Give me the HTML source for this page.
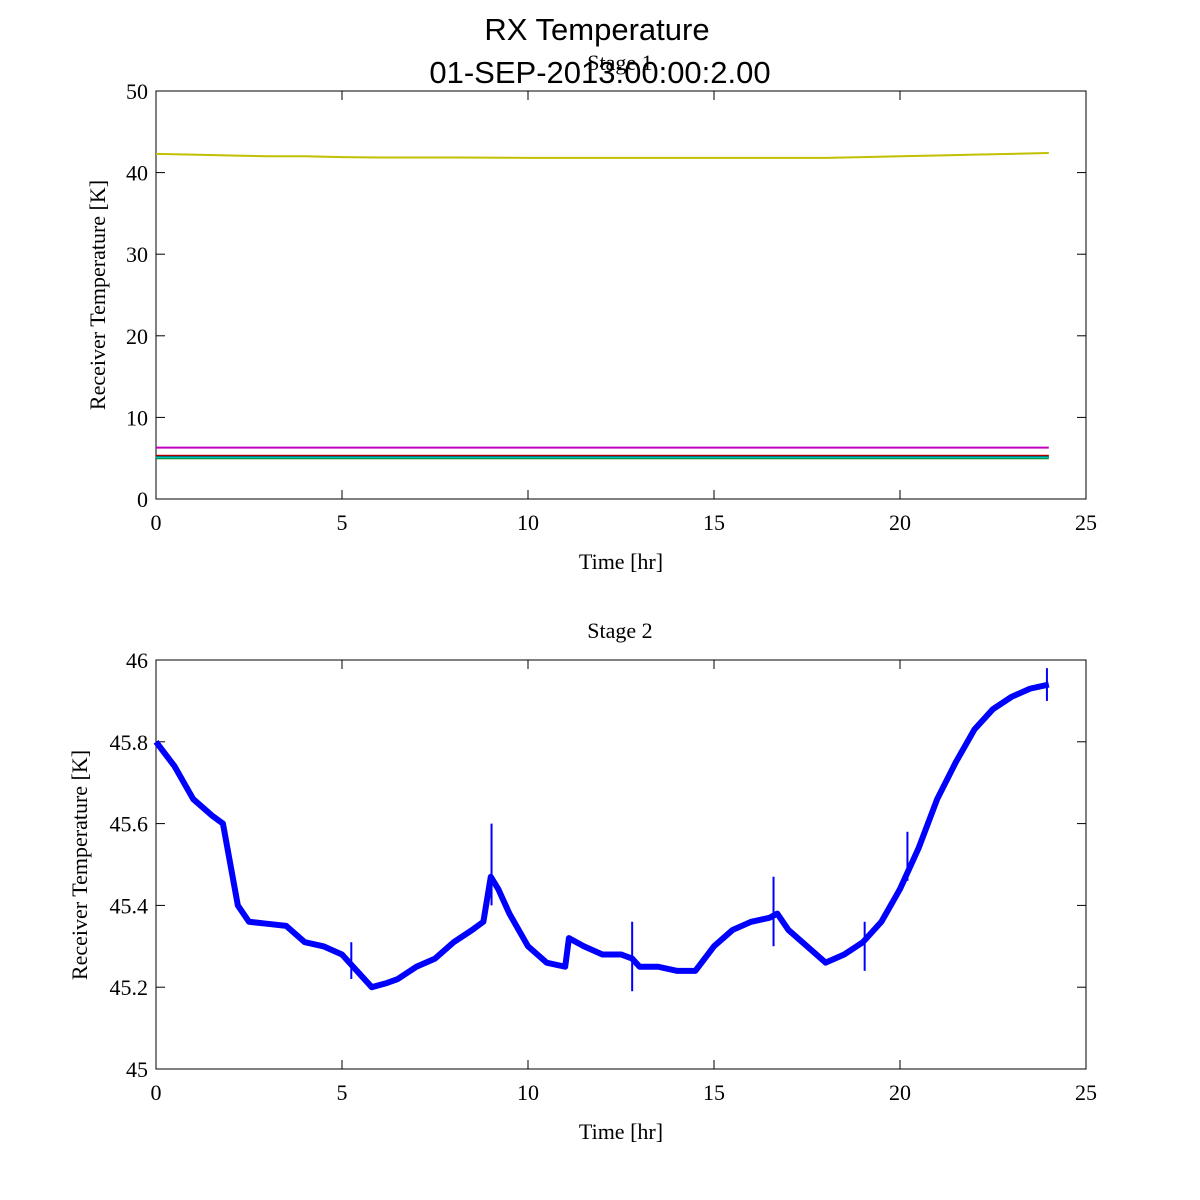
<!DOCTYPE html>
<html><head><meta charset="utf-8"><style>
body{margin:0;background:#fff;width:1200px;height:1200px;overflow:hidden}
svg{display:block}
.t{font-family:"Liberation Serif",serif;font-size:22px;fill:#000}
.s{font-family:"Liberation Sans",sans-serif;font-size:31px;fill:#000}
</style></head><body>
<svg id="c" width="1200" height="1200"></svg>
<script>
const hours2=[0,0.5,1,1.5,1.8,2.0,2.2,2.5,3,3.5,4,4.5,5,5.3,5.5,5.8,6.2,6.5,7,7.5,8,8.5,8.8,9.0,9.2,9.5,10,10.5,11,11.1,11.5,12,12.5,12.8,13,13.5,14,14.5,15,15.5,16,16.5,16.7,17,17.5,18,18.5,19,19.5,20,20.5,21,21.5,22,22.5,23,23.5,24];
const temps2=[45.80,45.74,45.66,45.62,45.60,45.50,45.40,45.36,45.355,45.35,45.31,45.30,45.28,45.25,45.23,45.20,45.21,45.22,45.25,45.27,45.31,45.34,45.36,45.47,45.44,45.38,45.30,45.26,45.25,45.32,45.30,45.28,45.28,45.27,45.25,45.25,45.24,45.24,45.30,45.34,45.36,45.37,45.38,45.34,45.30,45.26,45.28,45.31,45.36,45.44,45.54,45.66,45.75,45.83,45.88,45.91,45.93,45.94];
const spikeHours=[9.02,12.8,16.6,5.25,20.2,23.95,19.05];
const spikeTop=[45.60,45.36,45.47,45.31,45.58,45.98,45.36];
const spikeBottom=[45.40,45.19,45.30,45.22,45.46,45.90,45.24];
const hours1=[0,1,2,3,4,5,6,8,10,12,14,16,18,19,20,21,22,23,24];
const stage1Yellow=[42.3,42.2,42.1,42.0,42.0,41.9,41.85,41.85,41.8,41.8,41.8,41.8,41.8,41.9,42.0,42.1,42.2,42.3,42.4];
const stage1Levels=[6.3,5.3,5.2,5.0,5.1];
const stage1Colors=["#c000c0","#ff0000","#000000","#008000","#00c0c0"];
const xTicks=[0,5,10,15,20,25];
const yTicks1=[0,10,20,30,40,50];
const yTicks2=["45","45.2","45.4","45.6","45.8","46"];

const NS="http://www.w3.org/2000/svg";
const svg=document.getElementById('c');
function el(tag,attrs,parent){const e=document.createElementNS(NS,tag);for(const k in attrs)e.setAttribute(k,attrs[k]);(parent||svg).appendChild(e);return e;}
function txt(x,y,s,cls,anchor){const e=el('text',{x:x,y:y,'text-anchor':anchor||'middle',class:cls||'t'});e.textContent=s;return e;}

const L=156,R=1086;
const xs=h=>L+(R-L)*h/25;
function axes(top,bot,ymin,ymax,yt,name){
  const g=el('g',{});
  
  
  el('rect',{x:L,y:top,width:R-L,height:bot-top,fill:'none',stroke:'#000','stroke-width':1},g);
  const ys=v=>bot-(bot-top)*(v-ymin)/(ymax-ymin);
  xTicks.forEach(t=>{const x=xs(t);el('line',{x1:x,y1:bot,x2:x,y2:bot-9,stroke:'#000'},g);el('line',{x1:x,y1:top,x2:x,y2:top+9,stroke:'#000'},g);
    const l=txt(x,bot+31,String(t));});
  yt.forEach(t=>{const y=ys(parseFloat(t));el('line',{x1:L,y1:y,x2:L+9,y2:y,stroke:'#000'},g);el('line',{x1:R,y1:y,x2:R-9,y2:y,stroke:'#000'},g);
    const l=txt(L-8,y+8,String(t),'t','end');});
  const xl=txt((L+R)/2,bot+70,'Time [hr]');
  
  return ys;
}
let e=txt(597,40,'RX Temperature','s');

e=txt(620,70,'Stage 1');

e=txt(600,83,'01-SEP-2013:00:00:2.00','s');


const ys1=axes(91,499,0,50,yTicks1,'stage1-axes');
e=txt(0,0,'Receiver Temperature [K]');e.setAttribute('transform','translate(105,295) rotate(-90)');

e=el('polyline',{points:hours1.map((h,i)=>xs(h)+','+ys1(stage1Yellow[i])).join(' '),fill:'none',stroke:'#c0c000','stroke-width':2});

stage1Levels.forEach((v,i)=>{const l=el('line',{x1:xs(0),x2:xs(24),y1:ys1(v),y2:ys1(v),stroke:stage1Colors[i],'stroke-width':2});
  });

e=txt(620,638,'Stage 2');
const ys2=axes(660,1069,45,46,yTicks2,'stage2-axes');
e=txt(0,0,'Receiver Temperature [K]');e.setAttribute('transform','translate(87,865) rotate(-90)');

e=el('polyline',{points:hours2.map((h,i)=>xs(h)+','+ys2(temps2[i])).join(' '),fill:'none',stroke:'#0000ff','stroke-width':6,'stroke-linejoin':'round'});

spikeHours.forEach((h,i)=>{const l=el('line',{x1:xs(h),x2:xs(h),y1:ys2(spikeTop[i]),y2:ys2(spikeBottom[i]),stroke:'#0000ff','stroke-width':2});
  });
</script>
</body></html>
